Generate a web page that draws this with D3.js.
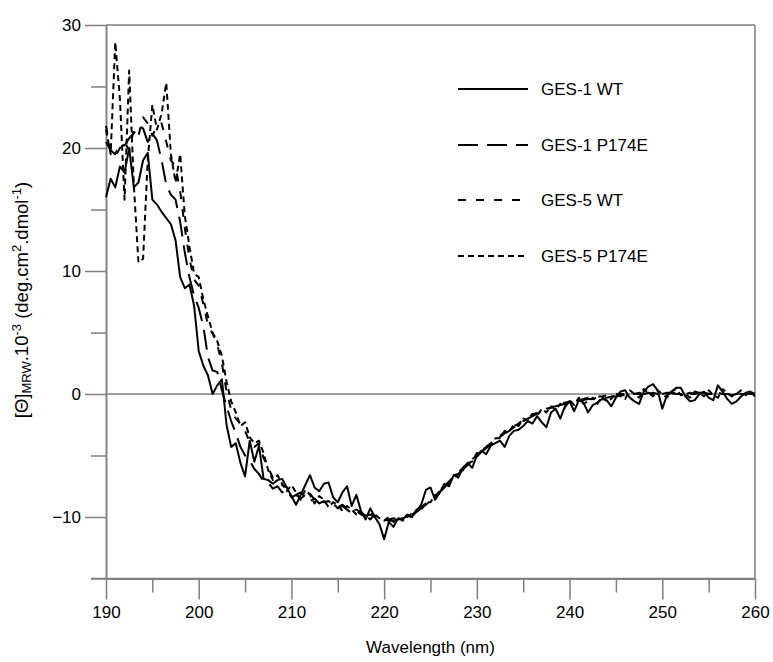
<!DOCTYPE html>
<html>
<head>
<meta charset="utf-8">
<script src="https://cdn.jsdelivr.net/npm/d3@7"></script>
<style>
  body { margin: 0; background: #fff; }
  text { font-family: "Liberation Sans", Arial, sans-serif; fill: #000; }
</style>
</head>
<body>
<div id="chart"></div>
<script>
// wavelengths (nm), 0.5 nm steps
const wavelength = [
  190,190.5,191,191.5,192,192.5,193,193.5,194,194.5,195,195.5,196,196.5,197,197.5,198,198.5,199,199.5,
  200,200.5,201,201.5,202,202.5,203,203.5,204,204.5,205,205.5,206,206.5,207,207.5,208,208.5,209,209.5,
  210,210.5,211,211.5,212,212.5,213,213.5,214,214.5,215,215.5,216,216.5,217,217.5,218,218.5,219,219.5,
  220,220.5,221,221.5,222,222.5,223,223.5,224,224.5,225,225.5,226,226.5,227,227.5,228,228.5,229,229.5,
  230,230.5,231,231.5,232,232.5,233,233.5,234,234.5,235,235.5,236,236.5,237,237.5,238,238.5,239,239.5,
  240,240.5,241,241.5,242,242.5,243,243.5,244,244.5,245,245.5,246,246.5,247,247.5,248,248.5,249,249.5,
  250,250.5,251,251.5,252,252.5,253,253.5,254,254.5,255,255.5,256,256.5,257,257.5,258,258.5,259,259.5,
  260
];

// mean residue ellipticity x 10^-3
const ges1WT = [
  16.0,17.5,16.8,18.5,18.0,20.0,16.8,17.2,19.0,19.6,15.8,15.4,14.8,14.3,13.8,12.5,9.5,8.6,8.9,7.2,
  3.5,2.3,1.5,0.0,0.7,1.2,-2.5,-4.3,-4.0,-5.6,-6.7,-3.8,-5.5,-4.2,-6.9,-7.0,-7.3,-7.0,-6.9,-7.6,
  -8.3,-9.0,-8.2,-7.4,-6.6,-7.6,-7.9,-7.3,-7.2,-8.4,-8.8,-8.0,-7.5,-9.1,-8.2,-9.5,-10.2,-9.3,-10.0,-10.6,
  -11.8,-10.4,-10.8,-10.1,-10.2,-9.8,-10.0,-9.5,-9.0,-7.8,-7.6,-8.6,-8.0,-7.3,-7.5,-6.6,-6.8,-6.0,-5.6,-6.0,
  -5.0,-4.6,-4.9,-4.2,-4.0,-3.8,-4.3,-3.4,-3.0,-2.9,-2.6,-2.2,-2.4,-1.8,-2.3,-2.7,-1.5,-1.2,-2.0,-1.0,
  -0.6,-1.4,-0.5,-0.7,-1.5,-0.9,-0.7,-0.4,-0.5,-1.0,-0.3,0.2,0.3,-0.3,-0.6,-0.8,0.2,0.6,0.8,0.3,
  -1.2,-0.1,0.2,0.5,0.5,-0.2,-0.6,-0.5,0.0,0.2,-0.3,-0.5,0.7,0.2,-0.4,-0.8,-0.6,-0.2,0.1,0.2,
  -0.2
];

const ges1P174E = [
  20.5,19.8,19.5,20.3,20.2,20.8,21.2,21.8,21.6,20.5,21.2,20.6,19.0,17.0,16.2,15.8,14.0,11.5,9.5,8.0,
  7.0,5.5,3.0,1.9,1.8,0.3,-1.0,-2.2,-3.2,-4.3,-5.0,-5.4,-6.1,-6.5,-7.1,-7.2,-7.7,-7.5,-8.0,-7.8,
  -8.4,-8.2,-8.5,-8.2,-8.7,-8.5,-8.9,-8.7,-9.0,-8.9,-9.3,-9.1,-9.4,-9.7,-9.5,-9.8,-9.9,-9.8,-10.0,-10.1,
  -10.2,-10.3,-10.3,-10.2,-10.1,-10.0,-9.8,-9.6,-9.3,-9.0,-8.7,-8.3,-8.0,-7.6,-7.2,-6.8,-6.5,-6.1,-5.8,-5.4,
  -5.1,-4.7,-4.4,-4.1,-3.8,-3.5,-3.2,-3.0,-2.7,-2.5,-2.2,-2.0,-1.8,-1.6,-1.4,-1.3,-1.1,-1.0,-0.9,-0.8,
  -0.7,-0.6,-0.5,-0.5,-0.4,-0.4,-0.3,-0.3,-0.3,-0.2,-0.2,-0.1,-0.1,-0.1,0.0,0.0,0.0,0.1,0.0,0.0,
  0.0,0.1,0.1,0.0,0.0,-0.1,0.0,0.0,0.1,0.1,0.0,0.0,0.1,0.0,0.0,-0.1,0.0,0.0,0.1,0.0,
  0.0
];

const ges5WT = [
  21.8,19.8,19.3,20.0,20.5,19.8,21.5,21.0,22.5,22.0,21.0,21.8,22.0,20.5,19.0,18.5,16.5,13.5,11.0,9.3,
  8.8,7.3,5.6,4.9,4.0,2.5,0.2,-1.3,-2.0,-2.4,-3.0,-3.9,-4.3,-4.0,-5.2,-6.0,-6.8,-7.1,-7.4,-7.6,
  -7.8,-8.2,-8.0,-8.4,-8.1,-8.6,-8.5,-8.8,-8.7,-9.0,-9.2,-9.0,-9.3,-9.5,-9.4,-9.6,-9.8,-9.7,-9.9,-10.0,
  -10.1,-10.2,-10.1,-10.2,-10.0,-10.0,-9.7,-9.5,-9.2,-8.9,-8.6,-8.3,-7.9,-7.5,-7.1,-6.7,-6.4,-6.0,-5.7,-5.3,
  -5.0,-4.6,-4.3,-4.0,-3.7,-3.4,-3.1,-2.9,-2.6,-2.4,-2.1,-1.9,-1.7,-1.5,-1.4,-1.2,-1.1,-0.9,-0.8,-0.7,
  -0.6,-0.5,-0.5,-0.4,-0.3,-0.3,-0.2,-0.2,-0.1,-0.1,0.0,0.0,0.0,0.1,0.0,0.1,0.0,0.0,0.1,0.0,
  0.0,0.0,0.1,0.0,0.0,0.0,0.1,0.0,0.0,0.1,0.0,0.0,0.1,0.0,0.0,0.0,0.1,0.0,0.0,0.0,
  0.0
];

const ges5P174E = [
  21.5,19.5,28.6,24.0,15.8,26.3,17.0,10.7,11.0,19.0,23.5,21.5,22.8,25.3,19.5,17.2,19.5,14.5,12.0,9.8,
  9.5,7.7,6.3,5.0,4.3,3.1,1.0,-0.6,-1.5,-2.6,-2.3,-3.5,-4.0,-3.8,-4.8,-6.2,-7.0,-6.6,-7.3,-7.9,
  -7.4,-8.0,-8.6,-7.8,-8.2,-8.9,-8.3,-8.6,-9.2,-8.8,-9.0,-9.5,-9.1,-9.4,-9.8,-9.6,-9.9,-10.2,-9.8,-10.1,
  -10.3,-10.0,-10.4,-10.1,-10.3,-9.9,-10.0,-9.4,-9.4,-8.8,-8.8,-8.2,-8.1,-7.4,-7.3,-6.6,-6.5,-6.2,-5.6,-5.5,
  -4.8,-4.8,-4.2,-4.2,-3.6,-3.6,-3.0,-3.0,-2.5,-2.6,-2.0,-2.1,-1.6,-1.8,-1.2,-1.5,-1.0,-1.3,-0.8,-1.1,
  -0.5,-0.9,-0.3,-0.8,-0.6,-0.3,-0.8,-0.2,-0.6,-0.4,0.1,-0.2,-0.4,0.3,0.0,-0.3,0.4,0.1,-0.2,0.3,
  0.0,-0.3,0.2,0.4,-0.1,0.0,-0.3,0.2,0.1,-0.2,0.3,-0.1,-0.3,0.4,0.1,-0.2,0.0,0.3,-0.1,0.2,
  0.0
];

const seriesNames = ["GES-1 WT", "GES-1 P174E", "GES-5 WT", "GES-5 P174E"];
const seriesValues = [ges1WT, ges1P174E, ges5WT, ges5P174E];
const seriesDash = ["none", "20,9", "8,10", "6,4"];

const xTicks = [190, 200, 210, 220, 230, 240, 250, 260];
const yTicks = [-10, 0, 10, 20, 30];

const w = 773;
const h = 662;
const padLeft = 106, padRight = 755, padTop = 25, padBottom = 578.5;
const axisColor = "#7f7f7f";

const svg = d3.select("#chart")
  .append("svg")
  .attr("width", w)
  .attr("height", h);

const xScale = d3.scaleLinear()
  .domain([190, 260])
  .range([padLeft, padRight]);

const yScale = d3.scaleLinear()
  .domain([-15, 30])
  .range([padBottom, padTop]);

// frame: top and right borders
svg.append("line")
  .attr("x1", padLeft).attr("x2", padRight)
  .attr("y1", padTop).attr("y2", padTop)
  .attr("stroke", axisColor).attr("stroke-width", 1.5);
svg.append("line")
  .attr("x1", padRight).attr("x2", padRight)
  .attr("y1", padTop).attr("y2", padBottom)
  .attr("stroke", axisColor).attr("stroke-width", 1.5);

// zero line
svg.append("line")
  .attr("x1", padLeft).attr("x2", padRight)
  .attr("y1", yScale(0)).attr("y2", yScale(0))
  .attr("stroke", axisColor).attr("stroke-width", 1.5);

// x axis with major + minor ticks
const xAxis = d3.axisBottom(xScale)
  .tickValues(xTicks)
  .tickSize(21)
  .tickPadding(6)
  .tickSizeOuter(0);
const xMinor = d3.axisBottom(xScale)
  .tickValues([195, 205, 215, 225, 235, 245, 255])
  .tickSize(14)
  .tickFormat("")
  .tickSizeOuter(0);

svg.append("g")
  .attr("id", "x-axis")
  .attr("transform", "translate(0," + padBottom + ")")
  .call(xAxis);
svg.append("g")
  .attr("transform", "translate(0," + padBottom + ")")
  .call(xMinor);

// y axis
const yAxis = d3.axisLeft(yScale)
  .tickValues(yTicks)
  .tickSize(21)
  .tickPadding(4)
  .tickSizeOuter(0);
const yMinor = d3.axisLeft(yScale)
  .tickValues([-15, -5, 5, 15, 25])
  .tickSize(15)
  .tickFormat("")
  .tickSizeOuter(0);

svg.append("g")
  .attr("id", "y-axis")
  .attr("transform", "translate(" + padLeft + ",0)")
  .call(yAxis);
svg.append("g")
  .attr("transform", "translate(" + padLeft + ",0)")
  .call(yMinor);

svg.selectAll(".domain, .tick line")
  .attr("stroke", axisColor)
  .attr("stroke-width", 1.5);
svg.selectAll(".tick text")
  .style("font-size", "17px")
  .style("font-family", "'Liberation Sans', Arial, sans-serif");

// bottom line reaches out to the -15 tick
svg.append("line")
  .attr("x1", padLeft - 15).attr("x2", padRight)
  .attr("y1", padBottom).attr("y2", padBottom)
  .attr("stroke", axisColor).attr("stroke-width", 1.5);

// curves
const line = d3.line()
  .x((d, i) => xScale(wavelength[i]))
  .y(d => yScale(d));

svg.selectAll(".curve")
  .data(seriesValues)
  .enter()
  .append("path")
  .attr("class", "curve")
  .attr("d", d => line(d))
  .attr("fill", "none")
  .attr("stroke", "#000")
  .attr("stroke-width", 2)
  .attr("stroke-linejoin", "round")
  .attr("stroke-dasharray", (d, i) => seriesDash[i]);

// legend
const legendY = [89, 145, 200, 256];
const legend = svg.selectAll(".legend")
  .data(seriesNames)
  .enter()
  .append("g")
  .attr("class", "legend")
  .attr("transform", (d, i) => "translate(458," + legendY[i] + ")");
legend.append("line")
  .attr("x1", 0).attr("x2", 70)
  .attr("stroke", "#000")
  .attr("stroke-width", 2)
  .attr("stroke-dasharray", (d, i) => seriesDash[i]);
legend.append("text")
  .attr("x", 83)
  .attr("dy", "0.35em")
  .style("font-size", "17px")
  .text(d => d);

// axis titles
svg.append("text")
  .attr("x", (padLeft + padRight) / 2)
  .attr("y", 653)
  .attr("text-anchor", "middle")
  .style("font-size", "17px")
  .text("Wavelength (nm)");

const yTitle = svg.append("text")
  .attr("transform", "translate(28,300) rotate(-90)")
  .attr("text-anchor", "middle")
  .style("font-size", "18.5px");
yTitle.append("tspan").text("[Θ]");
yTitle.append("tspan").style("font-size", "13px").attr("baseline-shift", "-3").text("MRW");
yTitle.append("tspan").text(".10");
yTitle.append("tspan").style("font-size", "13px").attr("baseline-shift", "7").text("-3");
yTitle.append("tspan").text(" (deg.cm");
yTitle.append("tspan").style("font-size", "13px").attr("baseline-shift", "7").text("2");
yTitle.append("tspan").text(".dmol");
yTitle.append("tspan").style("font-size", "13px").attr("baseline-shift", "7").text("-1");
yTitle.append("tspan").text(")");
</script>
</body>
</html>
